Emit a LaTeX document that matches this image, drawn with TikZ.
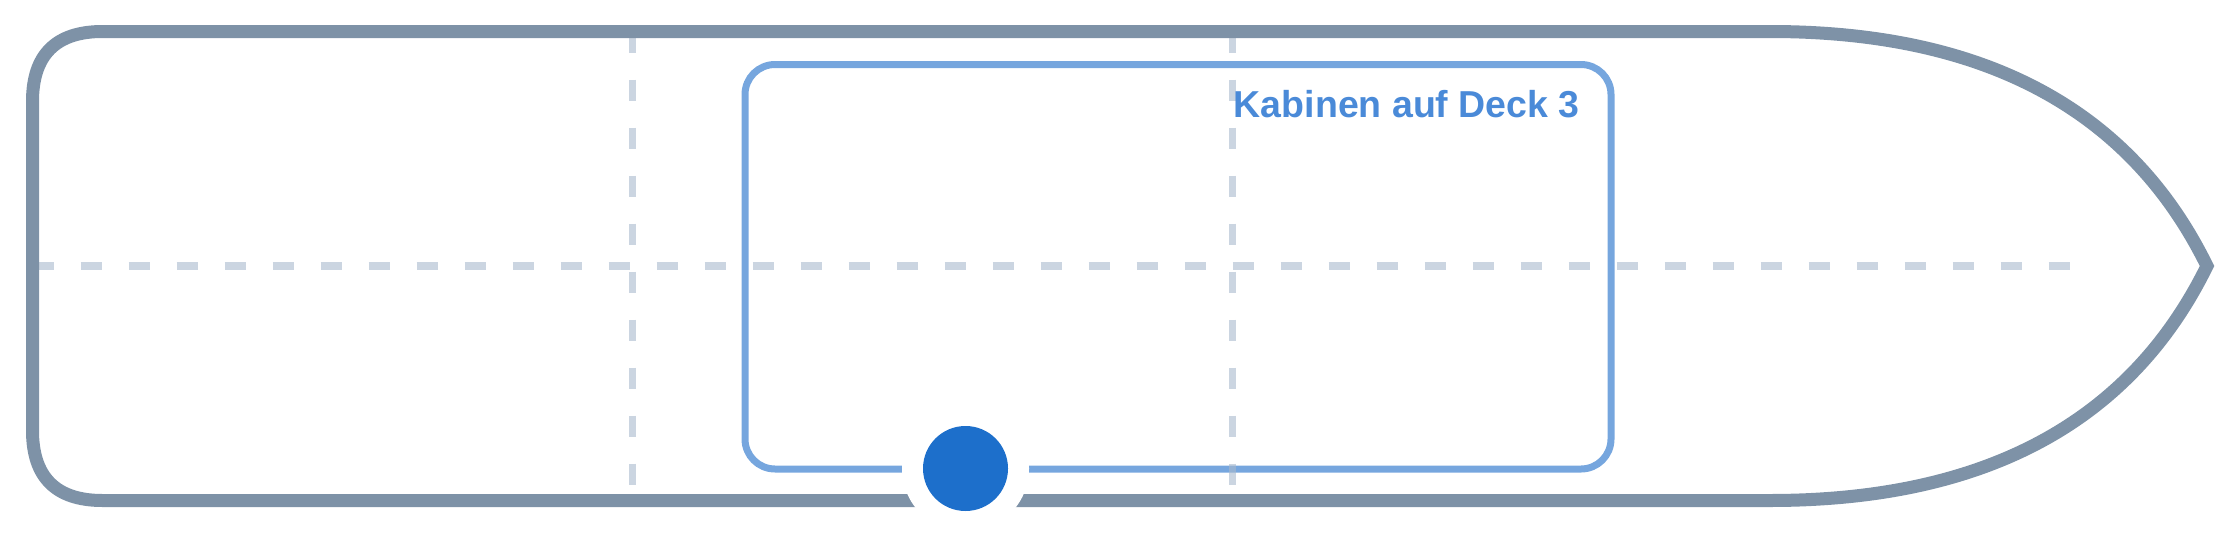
\documentclass[tikz,border=0pt]{standalone}
\usepackage{fontspec}
\setmainfont{Liberation Sans}
\definecolor{hullc}{RGB}{126,146,167}
\definecolor{gridc}{RGB}{168,185,205}
\definecolor{deckc}{RGB}{118,166,222}
\definecolor{lblc}{RGB}{74,138,216}
\definecolor{dotc}{RGB}{29,111,203}
\begin{document}
\begin{tikzpicture}[x=1pt,y=-1pt,
  hullline/.style={draw=hullc,line width=13pt,line join=miter},
  gridline/.style={draw=gridc,draw opacity=0.6,line width=7.5pt,dash pattern=on 21pt off 27pt},
  deckbox/.style={draw=deckc,line width=7pt,rounded corners=30pt},
  decklabel/.style={text=lblc,font=\bfseries\fontsize{37.5}{40}\selectfont,inner sep=0pt,anchor=base east},
  halo/.style={circle,fill=white,minimum size=127pt,inner sep=0pt},
  marker/.style={circle,fill=dotc,minimum size=85pt,inner sep=0pt}]
\useasboundingbox (0,0) rectangle (2240,533);
% deck box
\draw[deckbox] (745,64.5) rectangle (1611,469);
% grid lines
\coordinate (hl) at (32.5,266);
\coordinate (hr) at (2080,266);
\coordinate (v1t) at (632.5,31.5);
\coordinate (v1b) at (632.5,500.5);
\coordinate (v2t) at (1232.5,31.5);
\coordinate (v2b) at (1232.5,500.5);
\draw[gridline] (hl) -- (hr);
\draw[gridline] (v1t) -- (v1b);
\draw[gridline] (v2t) -- (v2b);
% hull
\coordinate (bowtop) at (1770,31.5);
\coordinate (bowbot) at (1770,500.5);
\coordinate (tip) at (2207,266);
\draw[hullline] (bowtop) .. controls (1984.67,31.5) and (2130.33,109.67) .. (tip)
  .. controls (2130.33,422.33) and (1984.67,500.5) .. (bowbot)
  -- (102.5,500.5) .. controls (55.83,500.5) and (32.5,477.17) .. (32.5,430.5)
  -- (32.5,101.5) .. controls (32.5,54.83) and (55.83,31.5) .. (102.5,31.5)
  -- cycle;
% label
\node[decklabel] (lbl) at (1580,117) {Kabinen auf Deck 3};
% marker
\node[halo] (hal) at (965.5,468.5) {};
\node[marker] (dot) at (965.5,468.5) {};
\end{tikzpicture}
\end{document}
